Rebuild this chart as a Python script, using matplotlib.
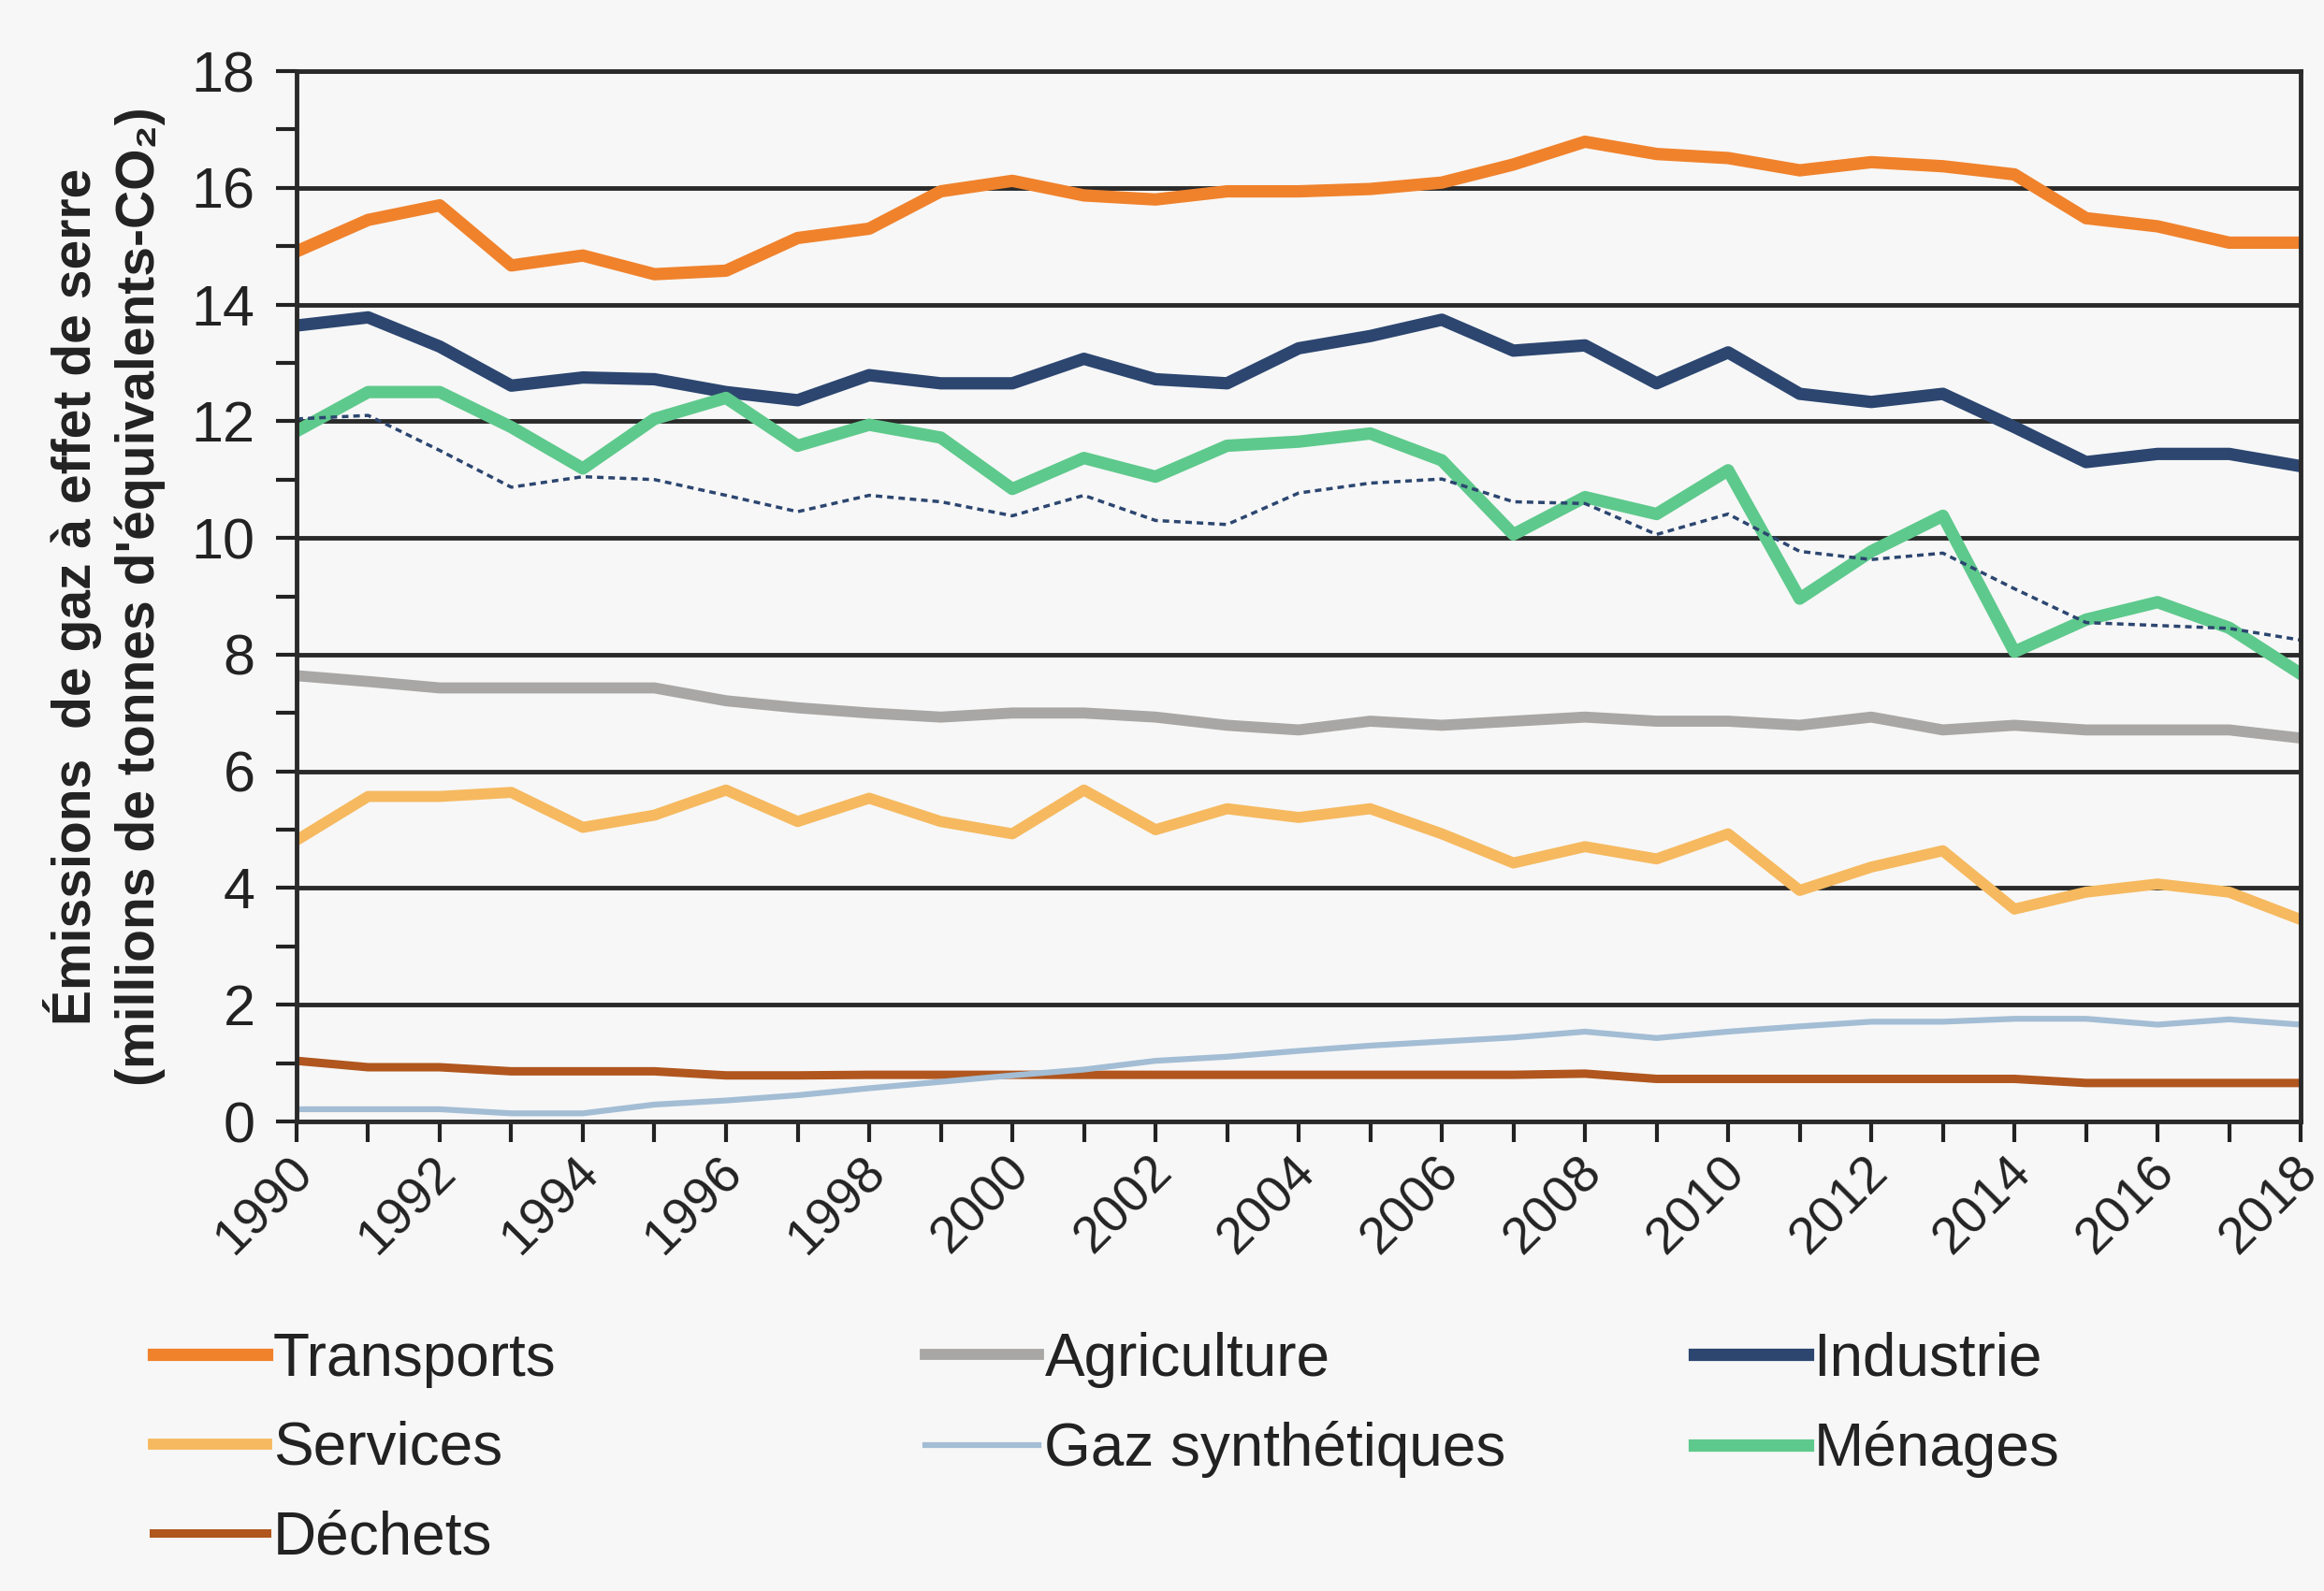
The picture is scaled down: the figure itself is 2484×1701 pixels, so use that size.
import numpy as np
import matplotlib.pyplot as plt
import matplotlib.transforms as mtransforms
from matplotlib.ticker import MultipleLocator

plt.rcParams['font.family'] = ['Liberation Sans', 'DejaVu Sans']

annees = list(range(1990, 2019))

transports = [14.91, 15.45, 15.7, 14.67, 14.84, 14.52, 14.58, 15.14, 15.3, 15.94,
              16.12, 15.87, 15.8, 15.94, 15.94, 15.98, 16.09, 16.4, 16.79, 16.58,
              16.51, 16.3, 16.44, 16.37, 16.23, 15.48, 15.34, 15.06, 15.06]
industrie = [13.64, 13.78, 13.28, 12.61, 12.75, 12.72, 12.5, 12.36, 12.79, 12.65,
             12.65, 13.07, 12.72, 12.65, 13.25, 13.46, 13.74, 13.21, 13.3, 12.65,
             13.18, 12.47, 12.33, 12.47, 11.9, 11.3, 11.44, 11.44, 11.23]
menages = [11.83, 12.5, 12.5, 11.9, 11.19, 12.04, 12.4, 11.58, 11.94, 11.72,
           10.84, 11.37, 11.05, 11.58, 11.65, 11.79, 11.33, 10.06, 10.7, 10.41,
           11.16, 8.96, 9.77, 10.38, 8.05, 8.6, 8.9, 8.46, 7.67]
menages_pointille = [12.04, 12.1, 11.5, 10.87, 11.05, 11.0, 10.73, 10.45, 10.73, 10.62,
                     10.38, 10.73, 10.3, 10.23, 10.77, 10.94, 11.01, 10.62, 10.59, 10.06,
                     10.41, 9.77, 9.63, 9.74, 9.13, 8.55, 8.5, 8.45, 8.25]
agriculture = [7.64, 7.54, 7.43, 7.43, 7.43, 7.43, 7.21, 7.09, 7.0, 6.93,
               7.0, 7.0, 6.93, 6.79, 6.71, 6.86, 6.79, 6.86, 6.93, 6.86,
               6.86, 6.79, 6.93, 6.71, 6.79, 6.71, 6.71, 6.71, 6.57]
services = [4.82, 5.57, 5.57, 5.64, 5.04, 5.25, 5.68, 5.14, 5.54, 5.14,
            4.93, 5.68, 5.0, 5.36, 5.21, 5.36, 4.93, 4.43, 4.71, 4.5,
            4.93, 3.96, 4.36, 4.64, 3.64, 3.93, 4.07, 3.93, 3.46]
gaz_synth = [0.21, 0.21, 0.21, 0.14, 0.14, 0.29, 0.36, 0.45, 0.57, 0.68,
             0.79, 0.89, 1.04, 1.11, 1.21, 1.3, 1.37, 1.44, 1.54, 1.43,
             1.54, 1.63, 1.71, 1.71, 1.76, 1.76, 1.66, 1.75, 1.66]
dechets = [1.04, 0.93, 0.93, 0.86, 0.86, 0.86, 0.79, 0.79, 0.8, 0.8,
           0.8, 0.8, 0.8, 0.8, 0.8, 0.8, 0.8, 0.8, 0.82, 0.73,
           0.73, 0.73, 0.73, 0.73, 0.73, 0.66, 0.66, 0.66, 0.66]

fond = '#f7f7f7'
fig = plt.figure(figsize=(24.84, 17.01), dpi=100, facecolor=fond)
ax = fig.add_axes([0.1276, 0.2951, 0.8624, 0.6602], facecolor=fond)

l_trans, = ax.plot(annees, transports, color='#f0822c', lw=9.5, label='Transports')
l_serv, = ax.plot(annees, services, color='#f6b95f', lw=8.5, label='Services')
l_dech, = ax.plot(annees, dechets, color='#b0561e', lw=6.5, label='Déchets')
l_agri, = ax.plot(annees, agriculture, color='#a9a7a5', lw=8.5, label='Agriculture')
l_gaz, = ax.plot(annees, gaz_synth, color='#a3bdd4', lw=4.5, label='Gaz synthétiques')
l_ind, = ax.plot(annees, industrie, color='#2c4670', lw=9.5, label='Industrie')
l_men, = ax.plot(annees, menages, color='#5ec98c', lw=9.5, label='Ménages')
ax.plot(annees, menages_pointille, color='#2c4670', lw=2.5, ls=(0, (2, 1.5)))

ax.set_xlim(1990, 2018)
ax.set_ylim(0, 18)
ax.yaxis.set_major_locator(MultipleLocator(2))
ax.yaxis.set_minor_locator(MultipleLocator(1))
ax.set_xticks(annees, minor=True)
ax.set_xticks(annees[::2])
ax.set_axisbelow(True)
ax.grid(axis='y', which='major', color='#2a2a2a', lw=3.5)

for s in ax.spines.values():
    s.set_color('#2a2a2a')
    s.set_linewidth(3.5)

ax.tick_params(axis='y', which='both', length=16, width=3, colors='#222222',
               labelsize=44, pad=16)
ax.tick_params(axis='x', which='both', length=16, width=3, colors='#222222',
               labelsize=40, pad=4)
decal = mtransforms.ScaledTranslation(-6 / 72, 0, fig.dpi_scale_trans)
for lab in ax.get_xticklabels():
    lab.set_rotation(45)
    lab.set_ha('right')
    lab.set_rotation_mode('anchor')
    lab.set_transform(lab.get_transform() + decal)

ax.set_ylabel("Émissions  de gaz à effet de serre\n(millions de tonnes d'équivalents-CO₂)",
              fontsize=41, fontweight='bold', color='#222222', linespacing=1.3,
              labelpad=20)

# legende en trois colonnes
colonnes = [([l_trans, l_serv, l_dech], 0.066),
            ([l_agri, l_gaz], 0.398),
            ([l_ind, l_men], 0.729)]
for handles, x0 in colonnes:
    leg = fig.legend(handles=handles, loc='upper left', bbox_to_anchor=(x0, 0.163),
                     frameon=False, fontsize=46, handlelength=1.9, handletextpad=0.1,
                     labelspacing=0.55, borderpad=0, borderaxespad=0)
    for t in leg.get_texts():
        t.set_color('#222222')

fig.savefig('out.png', dpi=100, facecolor=fond)
